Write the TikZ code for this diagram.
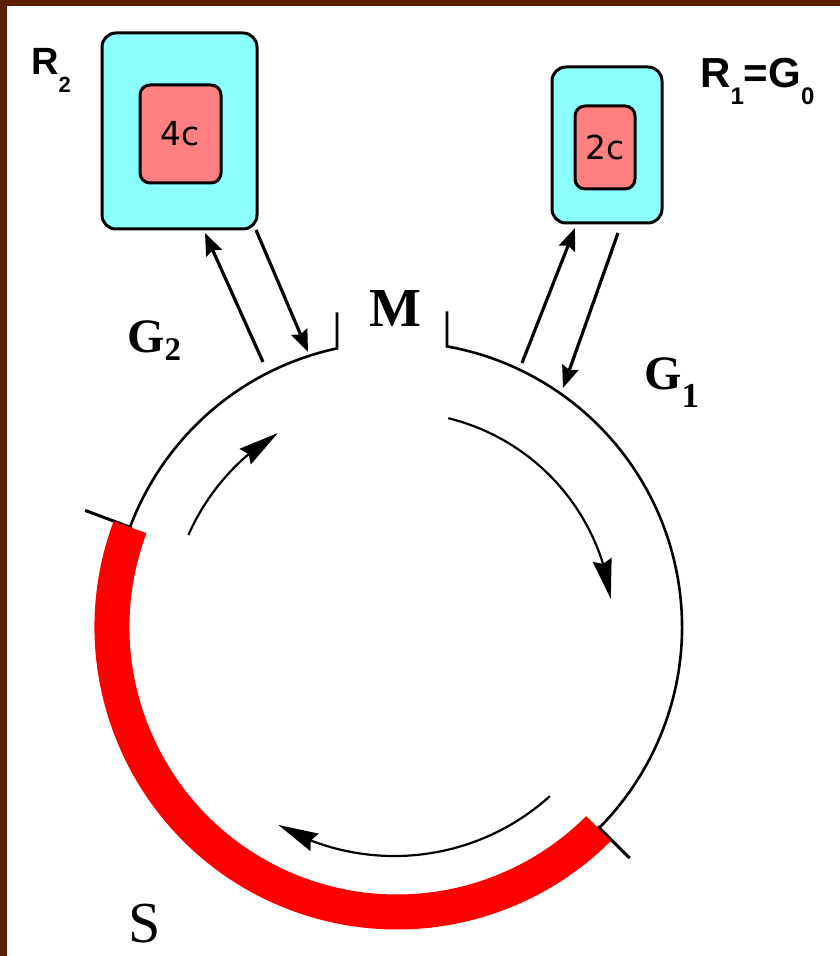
\documentclass[tikz,border=0pt]{standalone}
\usepackage{fontspec}
\setmainfont{Liberation Serif}
\newfontfamily\sansf{Liberation Sans}
\newfontfamily\boxf{DejaVu Sans}
\usetikzlibrary{arrows.meta,bending}
\definecolor{brd}{RGB}{90,30,0}
\definecolor{cyanf}{RGB}{140,255,255}
\definecolor{salm}{RGB}{255,128,128}
\definecolor{redarc}{RGB}{255,0,0}
\newcommand\lsub[3]{\raisebox{-#1}{\fontsize{#2}{#2}\selectfont #3}}
\tikzset{
  outerbox/.style={draw=black, line width=3pt, fill=cyanf, rounded corners=14pt, inner sep=0pt},
  innerbox/.style={draw=black, line width=3pt, fill=salm, rounded corners=10pt, inner sep=0pt,
                   font=\boxf\fontsize{33}{33}\selectfont},
  circline/.style={line width=2.6pt, black},
  ticko/.style={line width=3pt, black},
  redband/.style={line width=35pt, redarc},
  flow/.style={line width=2.2pt, -{Stealth[length=40pt,width=19pt,inset=4pt]}},
  xfer/.style={line width=3.2pt, -{Stealth[length=22pt,width=17pt,inset=3pt]}},
  sanslab/.style={font=\sansf\bfseries\fontsize{#1}{#1}\selectfont, inner sep=0pt, anchor=base west},
  seriflab/.style={font=\bfseries\fontsize{#1}{#1}\selectfont, inner sep=0pt, anchor=base west},
}
\begin{document}
\begin{tikzpicture}[x=1pt,y=1pt]
\fill[white] (0,0) rectangle (840,956);
\fill[brd] (0,0) rectangle (7,956);
\fill[brd] (0,950) rectangle (840,956);
\useasboundingbox (0,0) rectangle (840,956);

% boxes
\node[outerbox, minimum width=155pt, minimum height=196pt] (r2) at (179.5,825) {};
\node[innerbox, minimum width=81pt, minimum height=98pt] (r2in) at (180.5,822) {4c};
\node[outerbox, minimum width=110pt, minimum height=156pt] (r1) at (607,811) {};
\node[innerbox, minimum width=60pt, minimum height=83pt] (r1in) at (605,808.5) {2c};

% circle
\coordinate (c) at (397,329);
\begin{scope}[shift={(c)}]
  \draw[ticko] (159.5:283) -- (159.5:333);
  \draw[ticko] (-44.8:283) -- (-44.8:328);
  \draw[circline] (102.15:285) ++(0,36) -- (102.15:285)
       arc[start angle=102.15, end angle=439.9, radius=285] -- ++(0,35);
  \draw[redband] (159.5:285) arc[start angle=159.5, end angle=315, radius=285];
  \draw[flow] (156.2:228) arc[start angle=156.2, end angle=121.3, radius=226];
  \draw[flow] (76.2:215) arc[start angle=76.2, end angle=7.7, radius=216];
  \draw[flow] (-47.9:228) arc[start angle=-47.9, end angle=-120, radius=232];
\end{scope}

% transfer arrows
\coordinate (g2a) at (263,594);
\coordinate (g2b) at (308,604);
\coordinate (r2a) at (205,723);
\coordinate (r2b) at (256,726);
\coordinate (g1a) at (522,593);
\coordinate (g1b) at (563,568);
\coordinate (r1a) at (575,728);
\coordinate (r1b) at (618,723);
\draw[xfer] (g2a) -- (r2a);
\draw[xfer] (r2b) -- (g2b);
\draw[xfer] (g1a) -- (r1a);
\draw[xfer] (r1b) -- (g1b);

% labels
\node[sanslab=38] (lr2) at (31,881) {R\lsub{18pt}{22}{2}};
\node[sanslab=42] (lr1) at (700,868) {R\lsub{17pt}{24}{1}=G\lsub{17pt}{24}{0}};
\node[seriflab=55, anchor=base] (lm) at (395,629) {M};
\node[seriflab=48] (lg2) at (127,603) {G\lsub{8pt}{33}{2}};
\node[seriflab=48] (lg1) at (644,566) {G\lsub{18pt}{35}{1}};
\node[font=\fontsize{58}{58}\selectfont, inner sep=0pt, anchor=base west] (ls) at (128,13) {S};
\end{tikzpicture}
\end{document}
